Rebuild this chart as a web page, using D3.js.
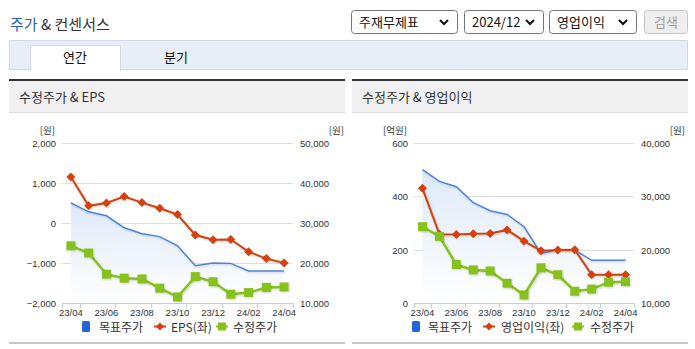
<!DOCTYPE html>
<html><head><meta charset="utf-8">
<script src="https://cdn.jsdelivr.net/npm/d3@7"></script>
<style>
html,body{margin:0;padding:0;background:#fff;}
svg{display:block;font-family:"Noto Sans CJK KR","Liberation Sans",sans-serif;}
</style></head>
<body>
<svg id="c" width="695" height="349"></svg>
<script>
const months = ["23/04","23/05","23/06","23/07","23/08","23/09","23/10","23/11","23/12","24/01","24/02","24/03","24/04"];
const targetPrice = [35000,32800,31800,28800,27300,26600,24300,19300,20000,19900,18000,18000,18000];
const adjPrice = [24300,22500,17200,16200,16000,13700,11500,16600,15300,12200,12600,13900,14000];
const eps = [1150,430,500,660,510,370,210,-300,-420,-410,-720,-890,-1000];
const opIncome = [430,258,257,260,261,274,232,196,199,200,106,106,106];
const epsTicks = [-2000,-1000,0,1000,2000];
const epsPriceTicks = [10000,20000,30000,40000,50000];
const opTicks = [0,200,400,600];
const opPriceTicks = [10000,20000,30000,40000];

const svg = d3.select("#c");
const fmt = d3.format(",");
const BLUE = "#4f83d9", RED = "#d5400f", GREEN = "#86c11a";
const NUMFONT = "Liberation Sans, sans-serif";

// defs
const defs = svg.append("defs");
const grad = defs.append("linearGradient").attr("id","ag").attr("x1",0).attr("y1",0).attr("x2",0).attr("y2",1);
grad.append("stop").attr("offset","0%").attr("stop-color","#dbe8f9").attr("stop-opacity",0.95);
grad.append("stop").attr("offset","100%").attr("stop-color","#ffffff").attr("stop-opacity",0.9);
const sh = defs.append("filter").attr("id","sh").attr("x","-10%").attr("y","-10%").attr("width","120%").attr("height","130%");
sh.append("feDropShadow").attr("dx",1).attr("dy",1).attr("stdDeviation",1).attr("flood-color","#000").attr("flood-opacity",0.18);

// header title
const t = svg.append("text").attr("x",10).attr("y",30).attr("font-size",15);
t.append("tspan").attr("fill","#2a5fc0").text("주가");
t.append("tspan").attr("fill","#333").text(" & 컨센서스");

// selects
function selectBox(x,w,label){
  svg.append("rect").attr("x",x+0.5).attr("y",10.5).attr("width",w).attr("height",23).attr("rx",3)
    .attr("fill","#fff").attr("stroke","#767676");
  svg.append("text").attr("x",x+8).attr("y",27).attr("font-size",13).attr("fill","#111").text(label);
  const cx = x+w-13;
  svg.append("path").attr("d",`M${cx-4},20 L${cx},24 L${cx+4},20`).attr("fill","none").attr("stroke","#111").attr("stroke-width",2);
}
selectBox(351,106,"주재무제표");
selectBox(464,79,"2024/12");
selectBox(549,87,"영업이익");
svg.append("rect").attr("x",644.5).attr("y",10.5).attr("width",43).attr("height",23).attr("rx",3)
  .attr("fill","#efefef").attr("stroke","#c6c6c6");
svg.append("text").attr("x",666).attr("y",27).attr("text-anchor","middle").attr("font-size",13).attr("fill","#a0a0a0").text("검색");

// tab bar
svg.append("rect").attr("x",9.5).attr("y",40.5).attr("width",678).attr("height",29).attr("fill","#e8eef8").attr("stroke","#d3dae6");
svg.append("rect").attr("x",30.5).attr("y",45.5).attr("width",90).attr("height",25).attr("fill","#fff").attr("stroke","#d3dae6");
svg.append("line").attr("x1",31).attr("x2",120).attr("y1",70).attr("y2",70).attr("stroke","#fff").attr("stroke-width",2);
svg.append("text").attr("x",75).attr("y",62).attr("text-anchor","middle").attr("font-size",13).attr("fill","#111").text("연간");
svg.append("text").attr("x",176).attr("y",62).attr("text-anchor","middle").attr("font-size",13).attr("fill","#111").text("분기");

function panel(px, title){
  svg.append("rect").attr("x",px).attr("y",81).attr("width",336).attr("height",31).attr("fill","#f0f0f0");
  svg.append("rect").attr("x",px).attr("y",79).attr("width",336).attr("height",2).attr("fill","#333");
  svg.append("rect").attr("x",px).attr("y",112).attr("width",336).attr("height",1).attr("fill","#dcdcdc");
  svg.append("text").attr("x",px+10).attr("y",102).attr("font-size",13).attr("fill","#333").text(title);
  svg.append("rect").attr("x",px).attr("y",342).attr("width",336).attr("height",2).attr("fill","#c8c8c8");
}

function chart(o){
  const g = svg.append("g");
  const x = d3.scaleBand().domain(months).range([o.x0,o.x1]).padding(0);
  const cx = d => x(d)+x.bandwidth()/2;
  const yL = d3.scaleLinear().domain(o.lDom).range([303,143]);
  const yR = d3.scaleLinear().domain(o.rDom).range([303,143]);
  // grid
  g.selectAll(".gl").data(o.lTicks).join("line")
    .attr("x1",o.x0).attr("x2",o.x1).attr("y1",d=>Math.round(yL(d))+0.5).attr("y2",d=>Math.round(yL(d))+0.5)
    .attr("stroke","#dedede");
  // axis labels
  g.selectAll(".lt").data(o.lTicks).join("text").attr("x",o.x0-6).attr("y",d=>yL(d)+4)
    .attr("text-anchor","end").attr("font-size",9.5).attr("fill","#333").attr("font-family",NUMFONT).text(d=>fmt(d));
  g.selectAll(".rt").data(o.rTicks).join("text").attr("x",o.x1+7).attr("y",d=>yR(d)+4)
    .attr("text-anchor","start").attr("font-size",9.5).attr("fill","#333").attr("font-family",NUMFONT).text(d=>fmt(d));
  g.append("text").attr("x",o.x0-7).attr("y",134).attr("text-anchor","end").attr("font-size",9.5).attr("fill","#333").text(o.lUnit);
  g.append("text").attr("x",o.x1+51).attr("y",134).attr("text-anchor","end").attr("font-size",9.5).attr("fill","#333").text("[원]");
  // x axis
  g.append("line").attr("x1",o.x0).attr("x2",o.x1).attr("y1",303.5).attr("y2",303.5).attr("stroke","#c3d0e2");
  const tickIdx = [0,1,3,5,7,9,11,13];
  g.selectAll(".xt").data(tickIdx).join("line")
    .attr("x1",i=>Math.round(o.x0+i*x.step())+0.5).attr("x2",i=>Math.round(o.x0+i*x.step())+0.5)
    .attr("y1",303).attr("y2",308).attr("stroke","#c3d0e2");
  g.selectAll(".xl").data(months.filter((m,i)=>i%2===0)).join("text")
    .attr("x",d=>cx(d)).attr("y",316).attr("text-anchor","middle").attr("font-size",9.5).attr("fill","#333")
    .attr("font-family",NUMFONT).text(d=>d);
  // area + target line
  const area = d3.area().x((d,i)=>cx(months[i])).y0(303).y1(d=>yR(d));
  g.append("path").datum(targetPrice).attr("d",area).attr("fill","url(#ag)");
  const lineR = d3.line().x((d,i)=>cx(months[i])).y(d=>yR(d));
  g.append("path").datum(targetPrice).attr("d",lineR).attr("fill","none").attr("stroke",BLUE).attr("stroke-width",1.5).attr("filter","url(#sh)");
  // left series (red diamonds)
  const lineL = d3.line().x((d,i)=>cx(months[i])).y(d=>yL(d));
  g.append("path").datum(o.lData).attr("d",lineL).attr("fill","none").attr("stroke",RED).attr("stroke-width",2).attr("filter","url(#sh)");
  g.selectAll(".dm").data(o.lData).join("path")
    .attr("d",(d,i)=>{const X=cx(months[i]),Y=yL(d),r=4.5;return `M${X},${Y-r}L${X+r},${Y}L${X},${Y+r}L${X-r},${Y}Z`;})
    .attr("fill",RED);
  // green
  g.append("path").datum(adjPrice).attr("d",lineR).attr("fill","none").attr("stroke",GREEN).attr("stroke-width",2.5).attr("filter","url(#sh)");
  g.selectAll(".sq").data(adjPrice).join("rect")
    .attr("x",(d,i)=>cx(months[i])-4.5).attr("y",d=>yR(d)-4.5).attr("width",9).attr("height",9).attr("fill",GREEN).attr("filter","url(#sh)");
  // legend
  const L = o.leg;
  g.append("rect").attr("x",L[0]).attr("y",321).attr("width",8).attr("height",11).attr("rx",1.5).attr("fill","#2068d8");
  g.append("text").attr("x",L[1]).attr("y",332).attr("font-size",12).attr("fill","#333").text("목표주가");
  g.append("line").attr("x1",L[2]).attr("x2",L[2]+12).attr("y1",326.5).attr("y2",326.5).attr("stroke",RED).attr("stroke-width",2);
  g.append("path").attr("d",`M${L[2]+6},${322.5}L${L[2]+10},${326.5}L${L[2]+6},${330.5}L${L[2]+2},${326.5}Z`).attr("fill",RED);
  g.append("text").attr("x",L[3]).attr("y",332).attr("font-size",12).attr("fill","#333").text(o.lName);
  g.append("line").attr("x1",L[4]).attr("x2",L[4]+12).attr("y1",326.5).attr("y2",326.5).attr("stroke",GREEN).attr("stroke-width",2);
  g.append("rect").attr("x",L[4]+2).attr("y",322.5).attr("width",8).attr("height",8).attr("fill",GREEN);
  g.append("text").attr("x",L[5]).attr("y",332).attr("font-size",12).attr("fill","#333").text("수정주가");
}

panel(9,"수정주가 & EPS");
panel(352,"수정주가 & 영업이익");
chart({x0:62,x1:293,lDom:[-2000,2000],rDom:[10000,50000],lTicks:epsTicks,rTicks:epsPriceTicks,
  lData:eps,lUnit:"[원]",lName:"EPS(좌)",leg:[82,99,154,171,216,233]});
chart({x0:414,x1:634,lDom:[0,600],rDom:[10000,40000],lTicks:opTicks,rTicks:opPriceTicks,
  lData:opIncome,lUnit:"[억원]",lName:"영업이익(좌)",leg:[412,428,483,501,572,590]});
</script>
</body></html>
